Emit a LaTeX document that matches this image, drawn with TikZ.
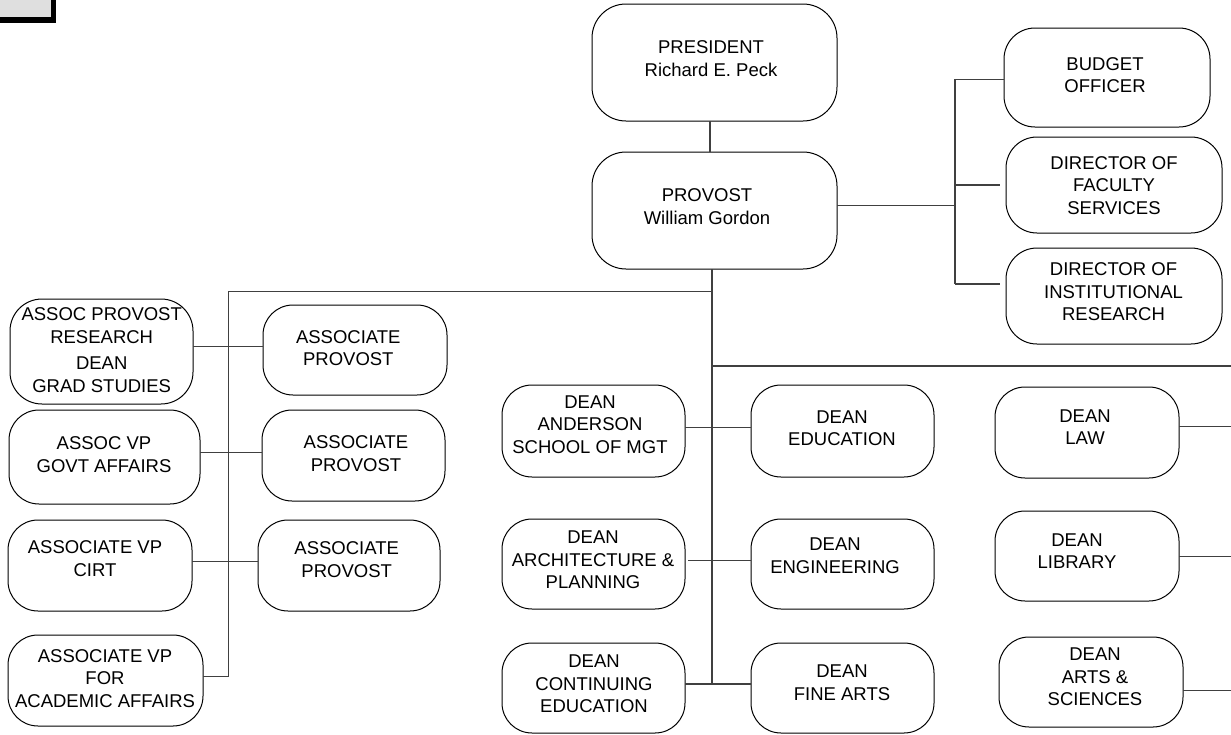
\documentclass[tikz,border=0pt]{standalone}
\usepackage{fontspec}
\setmainfont{Liberation Sans}
\usetikzlibrary{calc}
\newcommand\Bx[6][30pt]{\node[box=#1, minimum width={#5-#3}, minimum height={#6-#4}] (#2) at ({(#3+#5)/2},{(#4+#6)/2}) {};}
\begin{document}
\begin{tikzpicture}[x=1pt,y=-1pt,
  box/.style={draw=black, line width=1pt, rounded corners=#1, inner sep=0pt, outer sep=0pt},
  box/.default=30pt,
  txt/.style={align=center, inner sep=0pt, font=\fontsize{18.5}{22.5}\selectfont},
  conn/.style={draw=black!75, line width=1.1pt}]
\useasboundingbox (0,0) rectangle (1231,734);
% partial box at top left
\fill[black] (-10,-10) rectangle (56,23.3);
\fill[gray!25] (-10,-10) rectangle (51,17.2);
% boxes
\Bx[34pt]{pres}{592}{4}{837}{121}
\Bx[34pt]{prov}{592}{152}{837}{269}
\Bx[31pt]{budget}{1004}{28}{1210}{127}
\Bx[31pt]{fac}{1006}{137}{1222}{233}
\Bx[31pt]{inst}{1006}{248}{1222}{344}
\Bx[32pt]{apr}{10}{299}{193}{404}
\Bx{ap1}{263}{305}{447}{395}
\Bx{govt}{9}{410}{200}{504}
\Bx{ap2}{262}{410}{445}{501}
\Bx{cirt}{8}{520}{192}{611}
\Bx{ap3}{258}{520}{440}{611}
\Bx{aaa}{8}{635}{203}{726}
\Bx{anderson}{502}{385}{685}{477}
\Bx{edu}{751}{385}{934}{477}
\Bx{arch}{502}{519}{685}{609}
\Bx{eng}{751}{519}{934}{609}
\Bx{cont}{502}{643}{685}{733}
\Bx{fine}{751}{643}{934}{733}
\Bx{law}{995}{387}{1179}{478}
\Bx{lib}{995}{511}{1179}{601}
\Bx{arts}{999}{637}{1183}{727}
% texts
\node[txt] (pres-t) at (711,58.7) {PRESIDENT\\Richard E. Peck};
\node[txt] (prov-t) at (707,206.7) {PROVOST\\William Gordon};
\node[txt] (budget-t) at (1105,75) {BUDGET\\OFFICER};
\node[txt] (fac-t) at (1114,185.5) {DIRECTOR OF\\FACULTY\\SERVICES};
\node[txt] (inst-t) at (1113.5,291.7) {DIRECTOR OF\\INSTITUTIONAL\\RESEARCH};
\node[txt] (apr-t) at (101.7,350.2) {ASSOC PROVOST\\RESEARCH\\[4pt]DEAN\\GRAD STUDIES};
\node[txt] (ap1-t) at (348.3,348.3) {ASSOCIATE\\PROVOST};
\node[txt] (govt-t) at (104,454.5) {ASSOC VP\\GOVT AFFAIRS};
\node[txt] (ap2-t) at (356,453.7) {ASSOCIATE\\PROVOST};
\node[txt] (cirt-t) at (95,558.7) {ASSOCIATE VP\\CIRT};
\node[txt] (ap3-t) at (346.7,559.5) {ASSOCIATE\\PROVOST};
\node[txt] (aaa-t) at (105,678.3) {ASSOCIATE VP\\FOR\\ACADEMIC AFFAIRS};
\node[txt] (anderson-t) at (590,424.3) {DEAN\\ANDERSON\\SCHOOL OF MGT};
\node[txt] (edu-t) at (842,428) {DEAN\\EDUCATION};
\node[txt] (arch-t) at (593,560) {DEAN\\ARCHITECTURE \&\\PLANNING};
\node[txt] (eng-t) at (835,555.5) {DEAN\\ENGINEERING};
\node[txt] (cont-t) at (594,684.2) {DEAN\\CONTINUING\\EDUCATION};
\node[txt] (fine-t) at (842,682.8) {DEAN\\FINE ARTS};
\node[txt] (law-t) at (1085,427) {DEAN\\LAW};
\node[txt] (lib-t) at (1077,551.2) {DEAN\\LIBRARY};
\node[txt] (arts-t) at (1095,677) {DEAN\\ARTS \&\\SCIENCES};
% junction coordinates
\coordinate (tA) at (710,0);
\coordinate (tr) at (712,0);
\coordinate (re) at (1231,0);
\coordinate (pj) at (955,205.7);
\coordinate (b1) at (955,79.3);
\coordinate (b2) at (955,185);
\coordinate (b3) at (955,284);
\coordinate (tj) at (712,291.7);
\coordinate (tb) at (712,683.3);
\coordinate (lj) at (228.3,291.7);
\coordinate (lb) at (228.3,676.7);
\coordinate (rj) at (712,366);
\coordinate (c1) at (0,346.7);
\coordinate (c2) at (0,452.3);
\coordinate (c3) at (0,561.7);
\coordinate (c4) at (0,427.3);
\coordinate (c5) at (0,560.7);
\coordinate (c6) at (0,684);
\coordinate (c7) at (0,426.7);
\coordinate (c8) at (0,556.7);
\coordinate (c9) at (0,690.7);
% connectors
\draw[conn] (pres.south -| tA) -- (prov.north -| tA);
\draw[conn] (prov.east |- pj) -- (pj);
\draw[conn] (b1) -- (b3);
\draw[conn] (b1) -- (b1 -| budget.west);
\draw[conn] (b2) -- ($(b2 -| fac.west)+(-6,0)$);
\draw[conn] (b3) -- ($(b3 -| inst.west)+(-6,0)$);
\draw[conn] (prov.south -| tr) -- (tb);
\draw[conn] (tj) -- (lj) -- (lb) -- (aaa.east |- lb);
\draw[conn] (rj) -- (rj -| re);
\draw[conn] (apr.east |- c1) -- (ap1.west |- c1);
\draw[conn] (govt.east |- c2) -- (ap2.west |- c2);
\draw[conn] (cirt.east |- c3) -- (ap3.west |- c3);
\draw[conn] (anderson.east |- c4) -- (edu.west |- c4);
\draw[conn] ($(arch.east |- c5)+(3,0)$) -- (eng.west |- c5);
\draw[conn] (cont.east |- c6) -- (fine.west |- c6);
\draw[conn] (law.east |- c7) -- (re |- c7);
\draw[conn] (lib.east |- c8) -- (re |- c8);
\draw[conn] (arts.east |- c9) -- (re |- c9);
\end{tikzpicture}
\end{document}
